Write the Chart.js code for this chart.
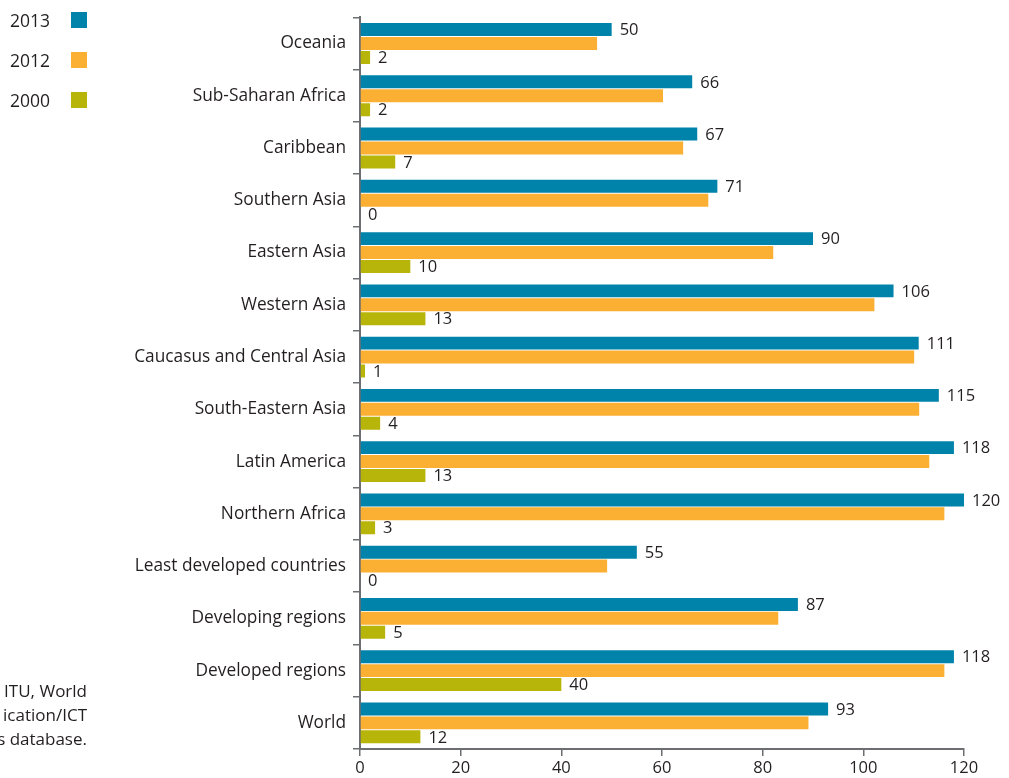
<!DOCTYPE html>
<html>
<head>
<meta charset="utf-8">
<script src="https://cdn.jsdelivr.net/npm/chart.js@4"></script>
<style>
  body { margin: 0; background: #fff; font-family: "Open Sans", sans-serif; color: #231f20; }
  #wrap { position: relative; width: 1009px; height: 778px; overflow: hidden; }
  #legend { position: absolute; left: 10px; top: 7px; }
  .item { position: relative; height: 40px; width: 80px; font-size: 17.5px; line-height: 26px; }
  .item .box { position: absolute; left: 61px; top: 5px; width: 16px; height: 16px; }
  #source { position: absolute; right: calc(1009px - 87px); top: 679px; font-size: 17px; line-height: 24px; text-align: right; white-space: nowrap; }
</style>
</head>
<body>
<div id="wrap">
  <canvas id="chart" width="1009" height="778"></canvas>
  <div id="legend"></div>
  <div id="source">ITU, World<br>ication/ICT<br>s database.</div>
</div>
<script>
// categories and values
const regions = [
  "Oceania", "Sub-Saharan Africa", "Caribbean", "Southern Asia", "Eastern Asia",
  "Western Asia", "Caucasus and Central Asia", "South-Eastern Asia", "Latin America",
  "Northern Africa", "Least developed countries", "Developing regions",
  "Developed regions", "World"
];
const values2013 = [50, 66, 67, 71, 90, 106, 111, 115, 118, 120, 55, 87, 118, 93];
const values2012 = [47.1, 60.2, 64.2, 69.2, 82.1, 102.2, 110.1, 111.1, 113.1, 116.1, 49.1, 83.1, 116.1, 89.1];
const values2000 = [2, 2, 7, 0, 10, 13, 1, 4, 13, 3, 0, 5, 40, 12];
const xTicks = [0, 20, 40, 60, 80, 100, 120];

const seriesLabels = ["2013", "2012", "2000"];
const seriesColors = ["#0083aa", "#fbb034", "#b8b50a"];
const textColor = "#231f20";
const axisColor = "#6d6e71";
const fontFamily = "'Open Sans', sans-serif";

// value labels after the 2013 and 2000 bars
const valueLabels = {
  id: "valueLabels",
  afterDatasetsDraw(chart) {
    const ctx = chart.ctx;
    ctx.save();
    ctx.fillStyle = textColor;
    ctx.font = "16.5px " + fontFamily;
    ctx.textAlign = "left";
    ctx.textBaseline = "middle";
    [0, 2].forEach((di) => {
      const meta = chart.getDatasetMeta(di);
      meta.data.forEach((bar, i) => {
        const v = chart.data.datasets[di].data[i];
        ctx.fillText(String(v), bar.x + 8, bar.y + 1);
      });
    });
    ctx.restore();
  }
};

const data = {
  labels: regions,
  datasets: [
    { label: seriesLabels[0], data: values2013, backgroundColor: seriesColors[0] },
    { label: seriesLabels[1], data: values2012, backgroundColor: seriesColors[1] },
    { label: seriesLabels[2], data: values2000, backgroundColor: seriesColors[2] }
  ]
};

const config = {
  type: "bar",
  data: data,
  options: {
    indexAxis: "y",
    responsive: false,
    animation: false,
    layout: { padding: { left: 0, right: 45, top: 11, bottom: 0 } },
    datasets: {
      bar: { categoryPercentage: 0.8, barPercentage: 0.93 }
    },
    plugins: {
      legend: { display: false },
      tooltip: { enabled: false }
    },
    scales: {
      x: {
        min: 0,
        max: 120,
        afterBuildTicks(scale) {
          scale.ticks = xTicks.map((v) => ({ value: v }));
        },
        afterFit(scale) { scale.height = 29; },
        grid: { drawOnChartArea: false, tickLength: 7, color: axisColor, lineWidth: 1.5 },
        border: { display: true, color: axisColor, width: 2 },
        ticks: { color: textColor, padding: 2, font: { family: fontFamily, size: 16.5 } }
      },
      y: {
        afterFit(scale) { scale.width = 360; },
        grid: { offset: true, drawOnChartArea: false, tickLength: 7, color: axisColor, lineWidth: 1.5 },
        border: { display: true, color: axisColor, width: 2 },
        ticks: { color: textColor, padding: 7, autoSkip: false, font: { family: fontFamily, size: 17.3 } }
      }
    }
  },
  plugins: [valueLabels]
};

const chart = new Chart(document.getElementById("chart").getContext("2d"), config);

// legend: text first, colour box to the right
const legend = document.getElementById("legend");
chart.data.datasets.forEach((ds) => {
  const item = document.createElement("div");
  item.className = "item";
  item.textContent = ds.label;
  const box = document.createElement("span");
  box.className = "box";
  box.style.background = ds.backgroundColor;
  item.appendChild(box);
  legend.appendChild(item);
});
</script>
</body>
</html>
